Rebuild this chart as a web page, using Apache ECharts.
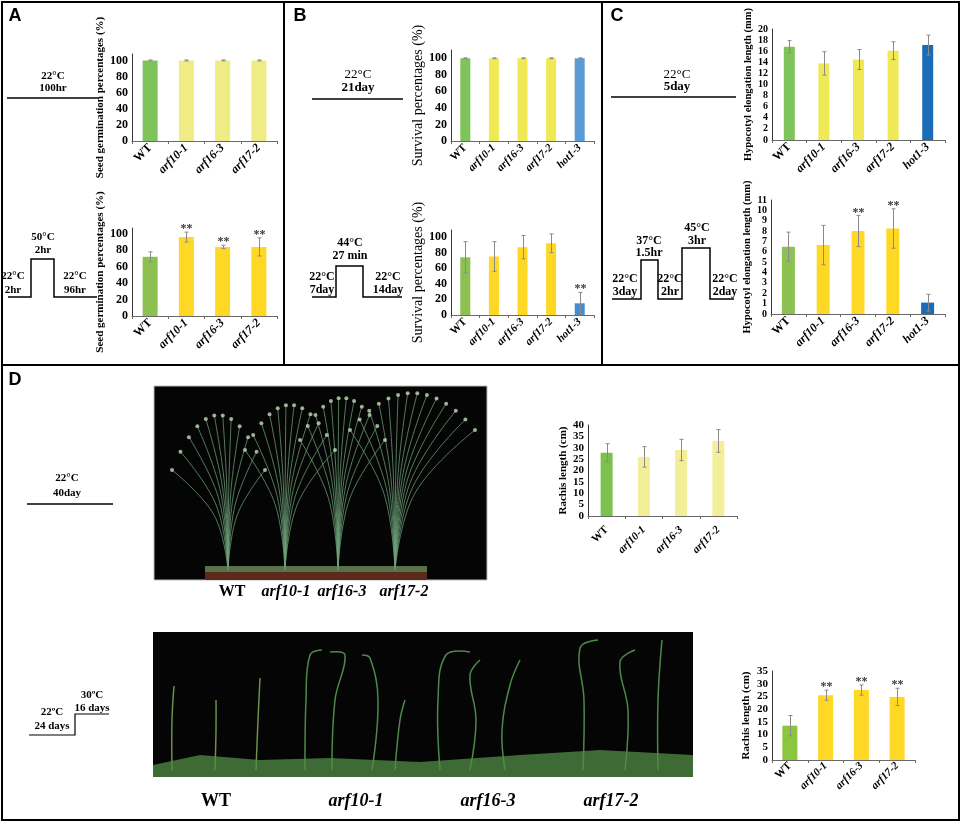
<!DOCTYPE html>
<html>
<head>
<meta charset="utf-8">
<script src="https://cdn.jsdelivr.net/npm/echarts@6.0.0/dist/echarts.min.js"></script>
<style>
  html, body { margin: 0; padding: 0; background: #fff; }
  #chart-container { width: 964px; height: 825px; }
</style>
</head>
<body>
<div id="chart-container"></div>
<script>
// genotypes
var cats4 = ["WT", "arf10-1", "arf16-3", "arf17-2"];
var cats5 = ["WT", "arf10-1", "arf16-3", "arf17-2", "hot1-3"];

// A: seed germination (%)
var germCtrl = [100, 100, 100, 100];
var germCtrlErr = [0.6, 0.6, 0.6, 0.6];
var germHeat = [72, 96, 84, 84];
var germHeatErr = [6, 6, 2, 11];
var germHeatSig = ["", "**", "**", "**"];

// B: survival (%)
var survCtrl = [100, 100, 100, 100, 100];
var survCtrlErr = [0.5, 0.5, 0.5, 0.5, 0.5];
var survHeat = [74, 75, 87, 92, 15];
var survHeatErr = [20, 19, 15, 12, 14];
var survHeatSig = ["", "", "", "", "**"];

// C: hypocotyl elongation (mm)
var hypoCtrl = [16.8, 13.8, 14.5, 16.1, 17.1];
var hypoCtrlErr = [1.1, 2.1, 1.8, 1.6, 1.8];
var hypoHeat = [6.5, 6.65, 8.0, 8.25, 1.1];
var hypoHeatErr = [1.4, 1.9, 1.5, 1.9, 0.8];
var hypoHeatSig = ["", "", "**", "**", ""];

// D: rachis length (cm)
var rachCtrl = [27.8, 26, 29, 33];
var rachCtrlErr = [4, 4.5, 4.7, 5];
var rachHeat = [13.5, 25.5, 27.5, 24.8];
var rachHeatErr = [4, 2, 2, 3.4];
var rachHeatSig = ["", "**", "**", "**"];

var SERIF = "Liberation Serif";
var GREEN1 = "#7ec45a", GREEN2 = "#8cc152";
var PALE = "#efec85", YEL = "#eee955", GOLD = "#ffd826";
var BLUE1 = "#5b9bd5", BLUE2 = "#3f8fd2", BLUE3 = "#1b6cb8";

var dom = document.getElementById("chart-container");
var myChart = echarts.init(dom, null, { renderer: "canvas", width: 964, height: 825 });

var grids = [], xAxes = [], yAxes = [], series = [];

function catLabel(v) {
  return v === "WT" ? "{n|WT}" : "{i|" + v + "}";
}

function errRenderer(sig) {
  return function (params, api) {
    var idx = api.value(0);
    var lo = api.coord([idx, api.value(1)]);
    var hi = api.coord([idx, api.value(2)]);
    var x = Math.round(lo[0]) + 0.5;
    var kids = [
      { type: "line", shape: { x1: x, y1: lo[1], x2: x, y2: hi[1] }, style: { stroke: "#8a8a8a", lineWidth: 1 } },
      { type: "line", shape: { x1: x - 2, y1: lo[1], x2: x + 2, y2: lo[1] }, style: { stroke: "#8a8a8a", lineWidth: 1 } },
      { type: "line", shape: { x1: x - 2, y1: hi[1], x2: x + 2, y2: hi[1] }, style: { stroke: "#8a8a8a", lineWidth: 1 } }
    ];
    var s = sig ? sig[params.dataIndex] : "";
    if (s) {
      kids.push({
        type: "text",
        style: { text: s, x: x, y: hi[1] + 3, align: "center", verticalAlign: "bottom",
          font: "bold 12px " + SERIF, fill: "#3a3a3a" }
      });
    }
    return { type: "group", children: kids };
  };
}

function addChart(c) {
  var gi = grids.length;
  grids.push({ left: c.left, top: c.top, width: c.width, height: c.height });
  xAxes.push({
    type: "category", gridIndex: gi, data: c.cats,
    axisLine: { lineStyle: { color: "#6a6a6a" } },
    axisTick: { show: true, length: 3, lineStyle: { color: "#6a6a6a" } },
    axisLabel: {
      rotate: 45, interval: 0, margin: c.xMargin, formatter: catLabel,
      rich: {
        n: { fontFamily: SERIF, fontWeight: "bold", fontSize: c.xFont, color: "#000" },
        i: { fontFamily: SERIF, fontWeight: "bold", fontStyle: "italic", fontSize: c.xFont, color: "#000" }
      }
    }
  });
  yAxes.push({
    type: "value", gridIndex: gi, min: 0, max: c.max, interval: c.interval,
    splitLine: { show: false },
    axisLine: { show: true, lineStyle: { color: "#333" } },
    axisTick: { show: false },
    axisLabel: {
      showMaxLabel: c.max % c.interval === 0,
      fontFamily: SERIF, fontWeight: "bold", fontSize: c.yFont, color: "#000", margin: 4
    },
    name: c.name, nameLocation: "middle", nameGap: c.nameGap,
    nameTextStyle: { fontFamily: SERIF, fontWeight: c.nameWeight || "bold", fontSize: c.nameFont, color: "#000" }
  });
  series.push({
    type: "bar", xAxisIndex: gi, yAxisIndex: gi, barWidth: c.barWidth, silent: true,
    data: c.values.map(function (v, i) {
      return { value: v, itemStyle: { color: c.colors[i] } };
    })
  });
  series.push({
    type: "custom", xAxisIndex: gi, yAxisIndex: gi, silent: true, z: 4,
    renderItem: errRenderer(c.sig),
    data: c.values.map(function (v, i) {
      return [i, v - c.err[i], v + c.err[i]];
    })
  });
}

// panel A
addChart({ left: 132, top: 54, width: 145, height: 87, cats: cats4, values: germCtrl, err: germCtrlErr,
  max: 108, interval: 20, yFont: 12, xFont: 12, xMargin: 5, barWidth: 15, nameGap: 20, nameFont: 11,
  name: "Seed germination percentages (%)", colors: [GREEN1, PALE, PALE, PALE] });
addChart({ left: 132, top: 228, width: 145, height: 88, cats: cats4, values: germHeat, err: germHeatErr, sig: germHeatSig,
  max: 107, interval: 20, yFont: 12, xFont: 12, xMargin: 5, barWidth: 15, nameGap: 20, nameFont: 11,
  name: "Seed germination percentages (%)", colors: [GREEN2, GOLD, GOLD, GOLD] });

// panel B
addChart({ left: 451, top: 50, width: 143, height: 91, cats: cats5, values: survCtrl, err: survCtrlErr,
  max: 110, interval: 20, yFont: 12, xFont: 11, xMargin: 5, barWidth: 10, nameGap: 25, nameFont: 14, nameWeight: "normal",
  name: "Survival percentages (%)", colors: [GREEN1, YEL, YEL, YEL, BLUE1] });
addChart({ left: 451, top: 230, width: 143, height: 85, cats: cats5, values: survHeat, err: survHeatErr, sig: survHeatSig,
  max: 109, interval: 20, yFont: 12, xFont: 11, xMargin: 5, barWidth: 10, nameGap: 25, nameFont: 14, nameWeight: "normal",
  name: "Survival percentages (%)", colors: [GREEN2, GOLD, GOLD, GOLD, BLUE2] });

// panel C
addChart({ left: 772, top: 29, width: 173, height: 111, cats: cats5, values: hypoCtrl, err: hypoCtrlErr,
  max: 20, interval: 2, yFont: 10, xFont: 12, xMargin: 5, barWidth: 11, nameGap: 17, nameFont: 10.5,
  name: "Hypocotyl elongation length (mm)", colors: [GREEN1, YEL, YEL, YEL, BLUE3] });
addChart({ left: 771, top: 200, width: 174, height: 114, cats: cats5, values: hypoHeat, err: hypoHeatErr, sig: hypoHeatSig,
  max: 11, interval: 1, yFont: 10, xFont: 12, xMargin: 5, barWidth: 13, nameGap: 17, nameFont: 10.5,
  name: "Hypocotyl elongation length (mm)", colors: [GREEN2, GOLD, GOLD, GOLD, BLUE3] });

// panel D
addChart({ left: 588, top: 425, width: 149, height: 91, cats: cats4, values: rachCtrl, err: rachCtrlErr,
  max: 40, interval: 5, yFont: 11, xFont: 11, xMargin: 12, barWidth: 12, nameGap: 17, nameFont: 11,
  name: "Rachis length (cm)", colors: ["#7cc04f", "#f3ef99", "#f3ef99", "#f3ef99"] });
addChart({ left: 772, top: 671, width: 143, height: 89, cats: cats4, values: rachHeat, err: rachHeatErr, sig: rachHeatSig,
  max: 35, interval: 5, yFont: 11, xFont: 11, xMargin: 4, barWidth: 15, nameGap: 20, nameFont: 11,
  name: "Rachis length (cm)", colors: ["#8cc63f", GOLD, GOLD, GOLD] });

// drawing helpers for frames, temperature regimes and photo placeholders
function txt(t, x, y, size, weight, style, family) {
  return { type: "text", z: 10, style: { text: t, x: x, y: y, align: "center", verticalAlign: "middle",
    font: (style || "") + " " + (weight || "bold") + " " + size + "px " + (family || SERIF), fill: "#000" } };
}
function seg(x1, y1, x2, y2, w) {
  return { type: "line", z: 10, shape: { x1: x1, y1: y1, x2: x2, y2: y2 }, style: { stroke: "#000", lineWidth: w || 1.5 } };
}
function poly(pts, w) {
  return { type: "polyline", z: 10, shape: { points: pts }, style: { stroke: "#000", lineWidth: w || 1.5, fill: null } };
}
function stem(pts, c, w) {
  return { type: "polyline", z: 6, shape: { points: pts, smooth: 0.4 }, style: { stroke: c || "#4d8a4a", lineWidth: w || 1.5, fill: null } };
}

// a fan of inflorescence stems for the photo placeholder
function plantFan(bx, by, x0, x1, yTop, yEdge, n, out) {
  for (var k = 0; k < n; k++) {
    var t = k / (n - 1);
    var tx = x0 + (x1 - x0) * t;
    var ty = yTop + (yEdge - yTop) * Math.pow(2 * t - 1, 2);
    var mx = bx + (tx - bx) * 0.25;
    var my = by - (by - ty) * 0.55;
    out.push(stem([[bx, by], [mx, my], [tx, ty]], "rgba(110,160,120,0.75)", 1));
    out.push({ type: "circle", z: 7, shape: { cx: tx, cy: ty, r: 2 }, style: { fill: "rgba(190,220,180,0.8)" } });
  }
}

var graphics = [
  // frames
  { type: "rect", z: 10, shape: { x: 2, y: 2, width: 957, height: 818 }, style: { fill: null, stroke: "#000", lineWidth: 2 } },
  seg(284, 2, 284, 365, 2), seg(602, 2, 602, 365, 2), seg(2, 365, 959, 365, 2),
  txt("A", 15, 16, 18, "bold", "", "Liberation Sans"),
  txt("B", 300, 16, 18, "bold", "", "Liberation Sans"),
  txt("C", 617, 16, 18, "bold", "", "Liberation Sans"),
  txt("D", 15, 380, 18, "bold", "", "Liberation Sans"),

  // A regimes
  txt("22°C", 53, 76, 11), txt("100hr", 53, 88, 11), seg(7, 98, 98, 98),
  poly([[8, 297], [31, 297], [31, 259], [54, 259], [54, 297], [97, 297]]),
  txt("50°C", 43, 237, 11), txt("2hr", 43, 250, 11),
  txt("22°C", 13, 276, 11), txt("2hr", 13, 290, 11),
  txt("22°C", 75, 276, 11), txt("96hr", 75, 290, 11),

  // B regimes
  txt("22°C", 358, 75, 13, "normal"), txt("21day", 358, 88, 13), seg(312, 99, 403, 99),
  poly([[312, 297], [336, 297], [336, 266], [363, 266], [363, 297], [402, 297]]),
  txt("44°C", 350, 243, 12), txt("27 min", 350, 256, 12),
  txt("22°C", 322, 277, 12), txt("7day", 322, 290, 12),
  txt("22°C", 388, 277, 12), txt("14day", 388, 290, 12),

  // C regimes
  txt("22°C", 677, 75, 13, "normal"), txt("5day", 677, 87, 13), seg(611, 97, 736, 97),
  poly([[612, 299], [641, 299], [641, 260], [658, 260], [658, 299], [682, 299], [682, 248], [710, 248], [710, 299], [734, 299]]),
  txt("37°C", 649, 241, 12), txt("1.5hr", 649, 253, 12),
  txt("45°C", 697, 228, 12), txt("3hr", 697, 241, 12),
  txt("22°C", 625, 279, 12), txt("3day", 625, 292, 12),
  txt("22°C", 670, 279, 12), txt("2hr", 670, 292, 12),
  txt("22°C", 725, 279, 12), txt("2day", 725, 292, 12),

  // D regimes
  txt("22°C", 67, 478, 11), txt("40day", 67, 493, 11), seg(27, 504, 113, 504),
  poly([[29, 735], [75, 735], [75, 714], [109, 714]], 1.2),
  txt("30ºC", 92, 695, 11), txt("16 days", 92, 708, 11),
  txt("22ºC", 52, 712, 11), txt("24 days", 52, 726, 11),

  // photo 1 placeholder
  { type: "rect", z: 5, shape: { x: 154, y: 386, width: 333, height: 194 }, style: { fill: "#050505", stroke: "#bbb", lineWidth: 1 } },
  { type: "rect", z: 8, shape: { x: 205, y: 572, width: 222, height: 8 }, style: { fill: "#5a2a1c" } },
  { type: "rect", z: 7, shape: { x: 205, y: 566, width: 222, height: 7 }, style: { fill: "rgba(110,140,90,0.8)" } },
  txt("WT", 232, 592, 16),
  txt("arf10-1", 286, 592, 16, "bold", "italic"),
  txt("arf16-3", 342, 592, 16, "bold", "italic"),
  txt("arf17-2", 404, 592, 16, "bold", "italic"),

  // photo 2 placeholder
  { type: "rect", z: 5, shape: { x: 153, y: 632, width: 540, height: 145 }, style: { fill: "#050505" } },
  stem([[172, 770], [172, 720], [174, 686]], "#6f8f4a"),
  stem([[215, 770], [216, 730], [216, 700]], "#6f8f4a"),
  stem([[256, 770], [258, 720], [260, 678]], "#6f8f4a"),
  stem([[305, 770], [306, 700], [310, 655], [322, 650]]),
  stem([[332, 770], [335, 700], [345, 655], [330, 652]]),
  stem([[372, 770], [378, 700], [370, 658], [362, 655]]),
  stem([[395, 770], [400, 720], [405, 700]]),
  stem([[440, 770], [438, 700], [446, 655], [470, 652]]),
  stem([[470, 770], [476, 720], [470, 675], [480, 660]]),
  stem([[505, 770], [502, 730], [510, 685], [520, 660]]),
  stem([[583, 770], [584, 700], [580, 648], [598, 640]]),
  stem([[625, 770], [628, 710], [620, 662], [635, 650]]),
  stem([[658, 770], [658, 700], [662, 640]]),
  { type: "polygon", z: 6, shape: { points: [[153, 777], [153, 765], [200, 755], [260, 760], [330, 758], [420, 762], [520, 755], [600, 750], [693, 755], [693, 777]] },
    style: { fill: "rgba(80,140,70,0.75)" } },
  txt("WT", 216, 801, 18),
  txt("arf10-1", 356, 801, 18, "bold", "italic"),
  txt("arf16-3", 488, 801, 18, "bold", "italic"),
  txt("arf17-2", 611, 801, 18, "bold", "italic")
];

plantFan(228, 570, 172, 265, 415, 470, 12, graphics);
plantFan(285, 570, 245, 335, 405, 450, 12, graphics);
plantFan(338, 570, 300, 385, 398, 440, 12, graphics);
plantFan(395, 570, 350, 475, 393, 430, 14, graphics);

var option = {
  animation: false,
  backgroundColor: "#fff",
  grid: grids,
  xAxis: xAxes,
  yAxis: yAxes,
  series: series,
  graphic: graphics
};

myChart.setOption(option);
window.addEventListener("resize", myChart.resize);
</script>
</body>
</html>
